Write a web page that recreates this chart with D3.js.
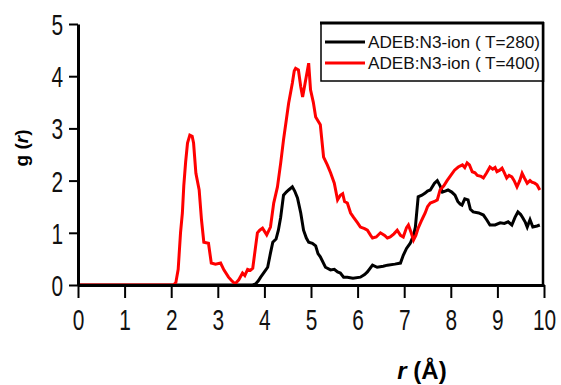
<!DOCTYPE html>
<html><head><meta charset="utf-8">
<script src="https://cdn.jsdelivr.net/npm/d3@7"></script>
<style>
html,body{margin:0;padding:0;background:#fff;}
svg text{font-family:"Liberation Sans",Arial,sans-serif;}
</style>
</head><body>
<svg id="chart" width="561" height="385"></svg>
<script>
const xTicks = [0,1,2,3,4,5,6,7,8,9,10];
const yTicks = [0,1,2,3,4,5];
const seriesNames = ["ADEB:N3-ion ( T=280)", "ADEB:N3-ion ( T=400)"];
const seriesColors = ["#000000", "#ff0000"];

const blackR = [0,3.75,3.81,3.87,3.92,4.0,4.07,4.13,4.18,4.25,4.3,4.35,4.41,4.47,4.52,4.6,4.65,4.71,4.78,4.84,4.9,4.95,5.03,5.1,5.15,5.2,5.31,5.42,5.5,5.57,5.63,5.7,5.78,5.9,6.06,6.15,6.21,6.32,6.42,6.55,6.64,6.8,6.92,6.98,7.05,7.13,7.2,7.24,7.3,7.38,7.45,7.5,7.56,7.65,7.71,7.77,7.82,7.88,7.94,8.02,8.09,8.15,8.2,8.24,8.3,8.37,8.42,8.48,8.6,8.7,8.77,8.84,8.95,9.06,9.15,9.23,9.31,9.38,9.44,9.5,9.55,9.6,9.64,9.7,9.76,9.85,9.91];
const blackG = [0,0,0.02,0.08,0.15,0.25,0.34,0.61,0.82,0.88,1.05,1.3,1.72,1.78,1.82,1.88,1.8,1.67,1.38,1.05,0.9,0.82,0.8,0.75,0.6,0.54,0.34,0.29,0.3,0.25,0.23,0.15,0.15,0.13,0.15,0.2,0.25,0.38,0.34,0.36,0.38,0.4,0.42,0.57,0.7,0.8,0.95,1.11,1.69,1.72,1.76,1.8,1.82,1.95,2.0,1.9,1.78,1.8,1.82,1.78,1.72,1.6,1.55,1.53,1.65,1.63,1.45,1.40,1.38,1.34,1.25,1.15,1.15,1.19,1.18,1.21,1.15,1.3,1.40,1.35,1.28,1.2,1.11,1.25,1.11,1.13,1.15];

const redR = [0,2.05,2.1,2.15,2.2,2.24,2.27,2.31,2.35,2.4,2.45,2.48,2.53,2.6,2.65,2.7,2.8,2.86,2.95,3.06,3.13,3.23,3.3,3.37,3.45,3.53,3.58,3.64,3.7,3.75,3.81,3.85,3.9,3.96,4.05,4.13,4.2,4.28,4.35,4.41,4.47,4.52,4.6,4.64,4.67,4.73,4.78,4.82,4.86,4.9,4.95,4.99,5.05,5.1,5.2,5.27,5.35,5.42,5.5,5.57,5.63,5.68,5.72,5.78,5.85,5.91,6.0,6.06,6.15,6.21,6.28,6.32,6.4,6.49,6.58,6.64,6.7,6.78,6.85,6.92,6.98,7.05,7.09,7.15,7.2,7.25,7.3,7.38,7.45,7.5,7.56,7.65,7.71,7.77,7.85,7.92,8.0,8.08,8.16,8.25,8.3,8.35,8.4,8.46,8.52,8.57,8.65,8.7,8.77,8.84,8.9,8.95,8.99,9.05,9.1,9.15,9.2,9.25,9.31,9.36,9.42,9.48,9.53,9.58,9.64,9.7,9.74,9.8,9.85,9.91];
const redG = [0,0,0.05,0.3,1.0,1.38,1.9,2.36,2.72,2.87,2.85,2.72,2.14,1.82,1.25,0.82,0.8,0.42,0.4,0.42,0.29,0.15,0.08,0.02,0.1,0.23,0.18,0.3,0.28,0.32,0.73,1.0,1.05,1.09,0.96,1.11,1.57,1.88,2.34,2.78,3.16,3.48,3.87,4.1,4.15,4.12,3.8,3.6,3.8,4.0,4.25,3.74,3.5,3.22,3.07,2.45,2.3,2.15,1.95,1.63,1.72,1.75,1.6,1.57,1.38,1.3,1.19,1.11,1.08,1.05,0.95,0.9,0.92,1.0,0.95,0.9,0.92,0.98,1.05,0.95,0.92,1.1,1.15,1.0,0.86,0.95,1.09,1.25,1.38,1.5,1.57,1.6,1.63,1.82,1.9,2.0,2.1,2.2,2.26,2.3,2.25,2.34,2.3,2.17,2.15,2.1,2.08,2.05,2.15,2.26,2.22,2.25,2.17,2.2,2.24,2.15,2.05,2.1,2.07,2.0,1.88,2.0,2.14,2.05,1.95,2.0,1.97,1.95,1.92,1.82];

const svg = d3.select("#chart");
const x = d3.scaleLinear().domain([0,10]).range([78,544]);
const y = d3.scaleLinear().domain([0,5]).range([285,24]);

// right frame line
svg.append("line").attr("x1",543).attr("x2",543).attr("y1",22).attr("y2",285)
  .attr("stroke","#000").attr("stroke-width",2.5);

const line = d3.line().x(d=>x(d[0])).y(d=>y(d[1]));
const blackData = blackR.map((r,i)=>[r,blackG[i]]);
const redData = redR.map((r,i)=>[r,redG[i]]);

svg.append("path").datum(blackData).attr("d",line).attr("fill","none")
  .attr("stroke",seriesColors[0]).attr("stroke-width",3).attr("stroke-linejoin","miter");
svg.append("path").datum(redData).attr("d",line).attr("fill","none")
  .attr("stroke",seriesColors[1]).attr("stroke-width",3).attr("stroke-linejoin","miter");

// axes
const xAxis = svg.append("g").attr("transform","translate(0,285)")
  .call(d3.axisBottom(x).tickValues(xTicks).tickFormat(d3.format("d")).tickSize(13).tickSizeOuter(0));
const yAxis = svg.append("g").attr("transform","translate(78,0)")
  .call(d3.axisLeft(y).tickValues(yTicks).tickFormat(d3.format("d")).tickSize(9).tickSizeOuter(0));
[xAxis,yAxis].forEach(a=>{
  a.select(".domain").attr("stroke","#000").attr("stroke-width",3);
  a.selectAll(".tick line").attr("stroke","#000").attr("stroke-width",2);
  a.selectAll(".tick text").attr("fill","#111").style("font-size","29px").style("font-family","'Liberation Sans',Arial,sans-serif");
});
xAxis.selectAll(".tick text").attr("y",0).attr("dy",0)
  .attr("transform","translate(0,45) scale(0.72,1)");
yAxis.selectAll(".tick text").attr("x",0).attr("dy","0.36em")
  .attr("transform","translate(-15,0) scale(0.72,1)");

// axis titles
const xt = svg.append("text").attr("x",422).attr("y",379).attr("text-anchor","middle")
  .style("font-size","24px").style("font-weight","bold");
xt.append("tspan").style("font-style","italic").text("r");
xt.append("tspan").text(" (Å)");

const yt = svg.append("text").attr("transform","translate(28,148) rotate(-90)")
  .attr("text-anchor","middle").style("font-size","19px").style("font-weight","bold");
yt.append("tspan").text("g  (");
yt.append("tspan").style("font-style","italic").text("r");
yt.append("tspan").text(")");

// legend
const lg = svg.append("g");
lg.append("rect").attr("x",321).attr("y",23).attr("width",222).attr("height",58)
  .attr("fill","#fff").attr("stroke","#000").attr("stroke-width",1.5);
lg.append("line").attr("x1",320).attr("x2",544).attr("y1",23).attr("y2",23)
  .attr("stroke","#000").attr("stroke-width",3);
lg.append("line").attr("x1",543).attr("x2",543).attr("y1",22).attr("y2",82)
  .attr("stroke","#000").attr("stroke-width",2.5);
const ly = [42,63];
seriesNames.forEach((name,i)=>{
  lg.append("line").attr("x1",325).attr("x2",365).attr("y1",ly[i]).attr("y2",ly[i])
    .attr("stroke",seriesColors[i]).attr("stroke-width",3);
  lg.append("text").attr("x",368).attr("y",ly[i]+6).attr("textLength",172)
    .attr("lengthAdjust","spacingAndGlyphs")
    .style("font-size","17px").attr("fill","#111").text(name);
});
</script>
</body></html>
